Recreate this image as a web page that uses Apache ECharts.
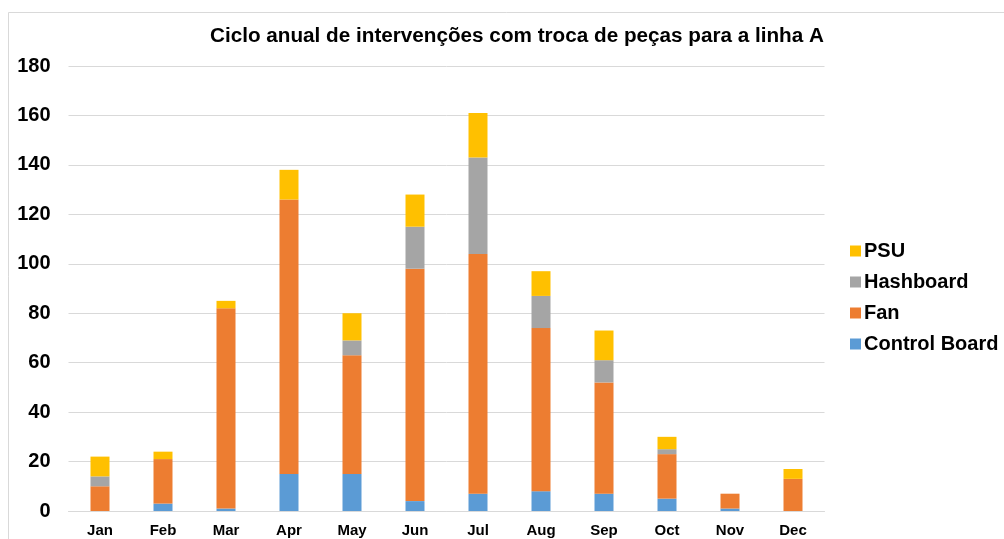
<!DOCTYPE html>
<html>
<head>
<meta charset="utf-8">
<script src="https://cdn.jsdelivr.net/npm/echarts@6/dist/echarts.min.js"></script>
<style>
html,body{margin:0;padding:0;background:#fff;}
#chart{width:1004px;height:539px;}
</style>
</head>
<body>
<div id="chart"></div>
<script>
const categories = ['Jan','Feb','Mar','Apr','May','Jun','Jul','Aug','Sep','Oct','Nov','Dec'];
const controlBoard = [0, 3, 1, 15, 15, 4, 7, 8, 7, 5, 1, 0];
const fan          = [10, 18, 81, 111, 48, 94, 97, 66, 45, 18, 6, 13];
const hashboard    = [4, 0, 0, 0, 6, 17, 39, 13, 9, 2, 0, 0];
const psu          = [8, 3, 3, 12, 11, 13, 18, 10, 12, 5, 0, 4];
const yTicks = [0, 20, 40, 60, 80, 100, 120, 140, 160, 180];
const titleText = 'Ciclo anual de intervenções com troca de peças para a linha A';

const font = 'Liberation Sans, Arial, sans-serif';
const chart = echarts.init(document.getElementById('chart'), null, {renderer:'canvas'});
function s(name, data, color){
  return {name, type:'bar', stack:'total', data, barWidth:19,
    itemStyle:{color}, emphasis:{disabled:true}};
}
chart.setOption({
  animation:false,
  backgroundColor:'#fff',
  graphic:[{type:'rect', shape:{x:8.5,y:12.5,width:1200,height:700},
    style:{fill:'none', stroke:'#d9d9d9', lineWidth:1}, silent:true, z:-1}],
  title:{text:titleText, left:205, top:21,
    textStyle:{fontFamily:font, fontSize:20.7, fontWeight:'bold', color:'#000'}},
  grid:{left:68.5, right:179.5, top:66, bottom:28, containLabel:false},
  legend:{orient:'vertical', left:845, top:236, itemWidth:11, itemHeight:11, itemGap:11,
    icon:'rect',
    data:['PSU','Hashboard','Fan','Control Board'],
    textStyle:{fontFamily:font, fontSize:20, fontWeight:'bold', color:'#000', padding:[0,0,0,-2]}},
  xAxis:{type:'category', data:categories,
    axisLine:{lineStyle:{color:'#d9d9d9'}}, axisTick:{show:false},
    axisLabel:{fontFamily:font, fontSize:15, fontWeight:'bold', color:'#000', margin:12}},
  yAxis:{type:'value', min:yTicks[0], max:yTicks[yTicks.length-1], interval:20,
    axisLine:{show:false}, axisTick:{show:false},
    splitLine:{lineStyle:{color:'#d9d9d9'}},
    axisLabel:{fontFamily:font, fontSize:20, fontWeight:'bold', color:'#000', margin:18}},
  series:[
    s('Control Board', controlBoard, '#5B9BD5'),
    s('Fan', fan, '#ED7D31'),
    s('Hashboard', hashboard, '#A5A5A5'),
    s('PSU', psu, '#FFC000')
  ]
});
</script>
</body>
</html>
